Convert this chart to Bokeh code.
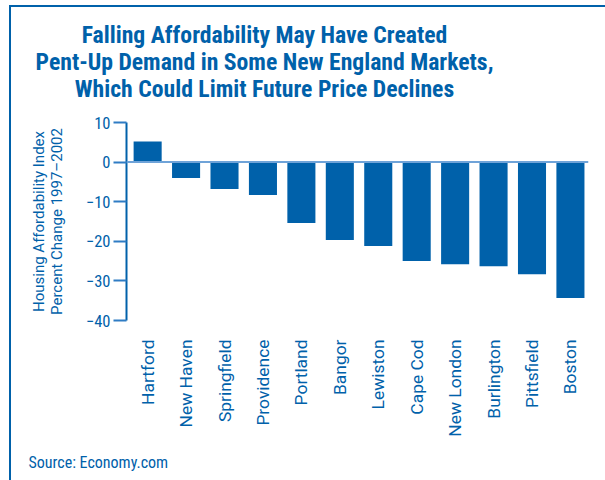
import math
from bokeh.plotting import figure
from bokeh.layouts import column
from bokeh.models import Range1d, FixedTicker, LinearAxis, Label, Span
from bokeh.embed import file_html
from bokeh.resources import INLINE

cities = ["Hartford", "New Haven", "Springfield", "Providence", "Portland", "Bangor",
          "Lewiston", "Cape Cod", "New London", "Burlington", "Pittsfield", "Boston"]
values = [5.2, -4.0, -6.8, -8.3, -15.4, -19.7, -21.2, -25.0, -25.8, -26.3, -28.3, -34.3]
y_ticks = [10, 0, -10, -20, -30, -40]
y_tick_labels = ["10", "0", "\u221210", "\u221220", "\u221230", "\u221240"]
title_lines = ["Falling Affordability May Have Created",
               "Pent-Up Demand in Some New England Markets,",
               "Which Could Limit Future Price Declines"]
y_label = "Housing Affordability Index\nPercent Change 1997\u20132002"
source_text = "Source: Economy.com"

BLUE = "#0061AA"
ZERO = "#6fa3d8"
TICK = "#2f7cc4"
CFONT = "'Roboto Condensed', 'DejaVu Sans Condensed', sans-serif"
RFONT = "'Roboto', 'Liberation Sans', sans-serif"

# page geometry (pixels)
OX, OY = 11, 7            # content origin, inside the outer frame lines
PW = 605 - OX             # content width
HEAD_B = 115              # bottom of header strip
MAIN_B = 445              # bottom of chart area
FL, FR, FT, FB = 126, 588, 122, 320  # plot frame edges


def no_align(f):
    if "frame_align" in f.properties():
        f.frame_align = False


def strip(y0, y1):
    f = figure(title=None, width=PW, height=y1 - y0, output_backend="svg",
               toolbar_location=None,
               x_range=Range1d(OX, 605), y_range=Range1d(y1, y0),
               min_border=0, x_axis_location=None, y_axis_location=None)
    f.grid.visible = False
    f.outline_line_color = None
    f.background_fill_color = "white"
    f.border_fill_color = "white"
    no_align(f)
    return f


# ---- header with title ----
head = strip(OY, HEAD_B)
for t, yb in zip(title_lines, [34, 61, 88]):
    head.add_layout(Label(x=264, y=yb, text=t, text_align="center",
                          text_baseline="alphabetic", text_font=CFONT,
                          text_font_size="23.7px", text_font_style="bold",
                          text_color=BLUE))

# ---- main chart ----
p = figure(title=None, width=PW, height=MAIN_B - HEAD_B, output_backend="svg",
           toolbar_location=None,
           x_range=Range1d(-0.55, 11.47), y_range=Range1d(-40, 10),
           min_border_left=FL - OX, min_border_right=605 - FR,
           min_border_top=FT - HEAD_B, min_border_bottom=MAIN_B - FB,
           x_axis_location=None, y_axis_location=None)
p.grid.visible = False
p.outline_line_color = None
p.background_fill_color = "white"
p.border_fill_color = "white"
no_align(p)

xs = list(range(len(cities)))
p.vbar(x=xs, top=values, bottom=0, width=0.73, fill_color=BLUE, line_color=None)
p.add_layout(Span(location=0, dimension="width", line_color=ZERO, line_width=2))

yax = LinearAxis(ticker=FixedTicker(ticks=y_ticks),
                 major_label_overrides={t: l for t, l in zip(y_ticks, y_tick_labels)})
yax.axis_line_color = BLUE
yax.axis_line_width = 2
yax.major_tick_line_color = TICK
yax.major_tick_line_width = 2
yax.major_tick_out = 13
yax.major_tick_in = 0
yax.minor_tick_line_color = None
yax.major_label_standoff = 3
yax.major_label_text_font = CFONT
yax.major_label_text_font_size = "16.5px"
yax.major_label_text_color = BLUE
yax.axis_label = y_label
yax.axis_label_text_font = RFONT
yax.axis_label_text_font_size = "15px"
yax.axis_label_text_font_style = "normal"
yax.axis_label_text_color = BLUE
yax.axis_label_text_line_height = 1.0
yax.axis_label_standoff = 17
p.add_layout(yax, "left")

xax = LinearAxis(ticker=FixedTicker(ticks=xs),
                 major_label_overrides={i: c for i, c in enumerate(cities)})
xax.axis_line_color = None
xax.major_tick_line_color = None
xax.minor_tick_line_color = None
xax.major_label_orientation = math.pi / 2
xax.major_label_standoff = 13
xax.major_label_text_font = RFONT
xax.major_label_text_font_size = "17.4px"
xax.major_label_text_color = BLUE
p.add_layout(xax, "below")

# ---- footer with source ----
foot = strip(MAIN_B, 480)
foot.add_layout(Label(x=28, y=462, text=source_text, text_align="left",
                      text_baseline="alphabetic", text_font=CFONT,
                      text_font_size="16px", text_color=BLUE))

layout = column(head, p, foot, spacing=0, margin=(5, 0, 0, 9),
                styles={"border-left": f"2px solid {BLUE}",
                        "border-top": f"2px solid {BLUE}"})

open("out.html", "w").write(file_html(layout, INLINE))
